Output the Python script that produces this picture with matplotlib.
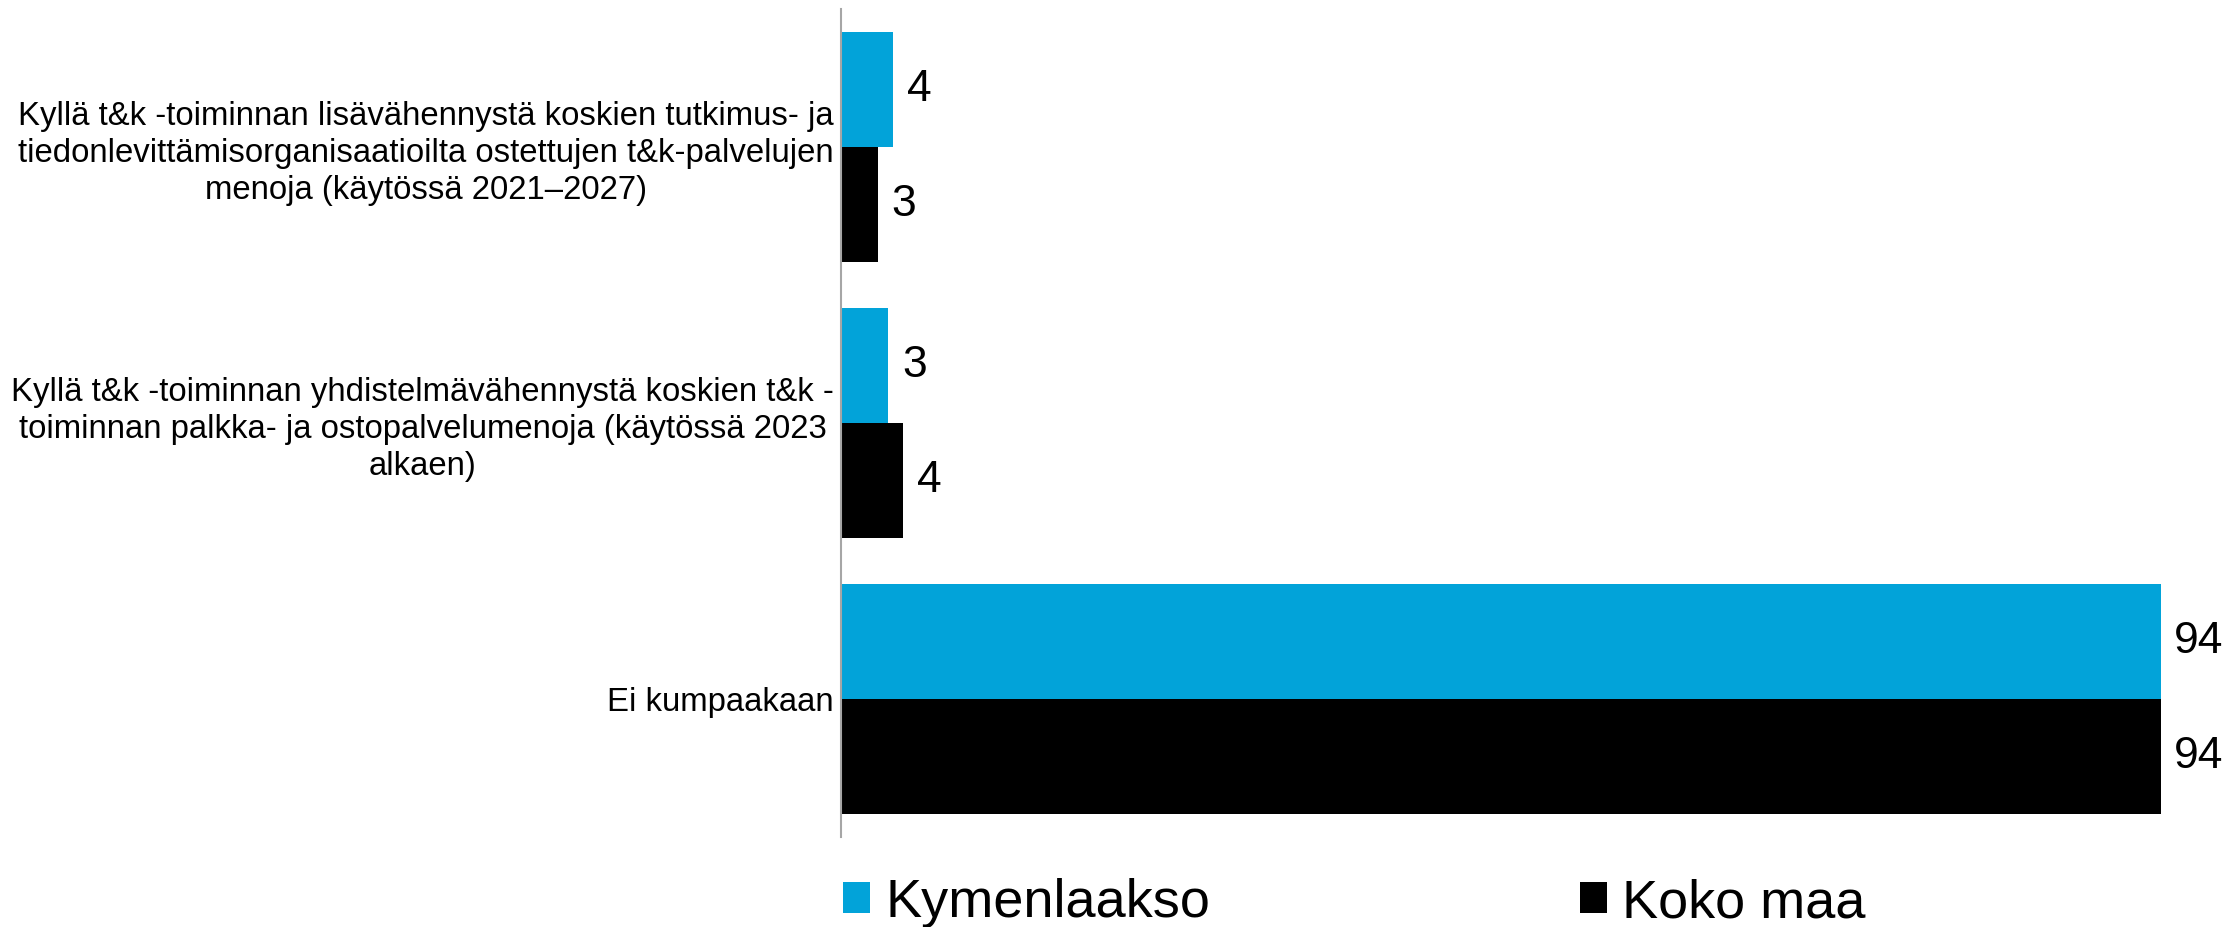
import matplotlib
matplotlib.use("Agg")
import matplotlib.pyplot as plt
from matplotlib.patches import Patch

plt.rcParams['font.family'] = ['Liberation Sans', 'DejaVu Sans']

categories = [
    "Kyllä t&k -toiminnan lisävähennystä koskien tutkimus- ja\ntiedonlevittämisorganisaatioilta ostettujen t&k-palvelujen\nmenoja (käytössä 2021–2027)",
    "Kyllä t&k -toiminnan yhdistelmävähennystä koskien t&k -\ntoiminnan palkka- ja ostopalvelumenoja (käytössä 2023\nalkaen)",
    "Ei kumpaakaan",
]
series_names = ["Kymenlaakso", "Koko maa"]
kymenlaakso = [3.7, 3.35, 94]
koko_maa = [2.6, 4.4, 94]
colors = ["#02A3D9", "#000000"]

W, H = 2229, 927
fig = plt.figure(figsize=(W / 100, H / 100), dpi=100)
ax = fig.add_axes([841 / W, 1 - 837 / H, 1 - 841 / W, (837 - 9) / H])

ys = list(range(len(categories)))
bh = 115 / 276
b1 = ax.barh([y - bh / 2 for y in ys], kymenlaakso, height=bh, color=colors[0], linewidth=0)
b2 = ax.barh([y + bh / 2 for y in ys], koko_maa, height=bh, color=colors[1], linewidth=0)

xmax = 94 * (W - 841) / (2161 - 841)
for bars, vals in ((b1, kymenlaakso), (b2, koko_maa)):
    for rect, v in zip(bars, vals):
        yc = rect.get_y() + rect.get_height() / 2
        if v > 0.9 * xmax:
            # label pushed inside the chart area at the right edge
            ax.annotate(f"{v:.0f}", xy=(1.0, yc), xycoords=("axes fraction", "data"),
                        xytext=(-4, 0), textcoords="offset points", ha="right", va="center",
                        fontsize=32, color="black")
        else:
            ax.annotate(f"{v:.0f}", xy=(rect.get_width(), yc),
                        xytext=(10, 0), textcoords="offset points", ha="left", va="center",
                        fontsize=32, color="black")

ax.set_ylim(len(categories) - 0.5, -0.5)
ax.set_xlim(0, xmax)
ax.set_yticks(ys)
ax.set_yticklabels(categories, fontsize=23.7, ha="right", multialignment="center", linespacing=1.25)
ax.tick_params(axis="y", length=0, pad=5)
ax.set_xticks([])
for s in ("top", "right", "bottom"):
    ax.spines[s].set_visible(False)
ax.spines["left"].set_color("#A6A6A6")
ax.spines["left"].set_linewidth(1.5)

handles = [Patch(facecolor=c, edgecolor="none") for c in colors]
fig.legend(handles, series_names, loc="center left", bbox_to_anchor=(843 / W, 1 - 903 / H),
           ncol=2, frameon=False, fontsize=39, borderpad=0, borderaxespad=0,
           handlelength=0.5, handleheight=0.5, handletextpad=0.28, columnspacing=6.82)

fig.savefig("out.png", dpi=100)
